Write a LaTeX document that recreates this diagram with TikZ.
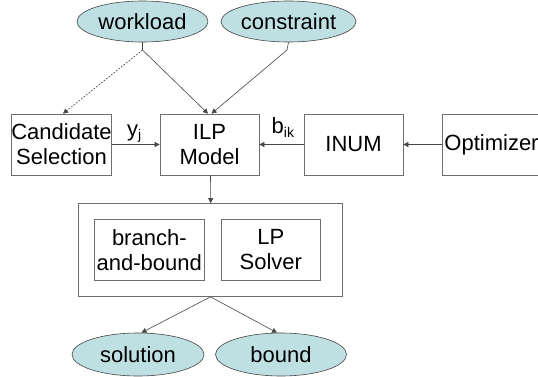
\documentclass[tikz,border=0pt]{standalone}
\usepackage{fontspec}
\setmainfont{Liberation Sans}
\usetikzlibrary{arrows.meta,shapes.geometric}
\definecolor{ellfill}{RGB}{190,224,227}
\definecolor{lngray}{RGB}{70,70,70}
\definecolor{boxgray}{RGB}{110,110,110}
\begin{document}
\begin{tikzpicture}[x=1pt,y=-1pt,
  txt/.style={font=\fontsize{22}{25}\selectfont, align=center, text=black},
  ell/.style={ellipse, draw=lngray, fill=ellfill, line width=0.6pt, minimum width=132pt, minimum height=41pt, inner sep=0pt, txt},
  boxn/.style={rectangle, draw=boxgray, line width=0.7pt, minimum width=99pt, minimum height=61pt, inner sep=0pt, txt},
  arr/.style={-{Triangle[length=5pt,width=5pt]}, draw=lngray, line width=0.6pt},
  lbl/.style={font=\fontsize{22}{25}\selectfont, inner sep=0pt, anchor=base west},
  sub/.style={font=\fontsize{14}{14}\selectfont}]
\clip (0,0) rectangle (538,377);
\fill[white] (0,0) rectangle (538,377);
% ellipses
\node[ell, minimum width=131pt] (wl) at (142.5,21.5) {workload};
\node[ell, minimum width=133pt] (cons) at (288.5,21.5) {constraint};
\node[ell, minimum height=43pt] (sol) at (138,354.5) {solution};
\node[ell, minimum height=43pt, minimum width=131pt] (bnd) at (281,354.5) {bound};
% boxes
\node[boxn] (cand) at (61.5,144.5) {Candidate\\Selection};
\node[boxn] (ilp) at (209.5,144.5) {ILP\\Model};
\node[boxn] (inum) at (353.5,144.5) {INUM};
\node[boxn] (opt) at (491.5,144.5) {Optimizer};
% solver
\node[rectangle, draw=boxgray, line width=0.7pt, minimum width=264pt, minimum height=93pt, inner sep=0pt] (solver) at (210.5,250) {};
\node[boxn, minimum width=110pt] (bb) at (149.3,249.7) {branch-\\and-bound};
\node[boxn, minimum width=98.5pt] (lp) at (270.8,249.7) {LP\\Solver};
% labels
\node[lbl] (yj) at (127,136) {y\raisebox{-3pt}{\fontsize{14}{14}\selectfont j}};
\node[lbl] (bik) at (271.5,134) {b\raisebox{-3.5pt}{\fontsize{14}{14}\selectfont ik}};
% free ends of the top connectors
\coordinate (wlout) at (142.5,50);
\coordinate (consout) at (287,50);
\draw[draw=lngray, line width=0.6pt] (wl.south) -- (wlout);
\draw[draw=lngray, line width=0.6pt] (cons.south) -- (consout);
% connectors
\draw[arr, dash pattern=on 2pt off 1.2pt] (wlout) -- ([xshift=1.5pt]cand.north);
\draw[arr] (wlout) -- ([xshift=-1.5pt]ilp.north);
\draw[arr] (consout) -- ([xshift=2pt]ilp.north);
\draw[arr] (cand.east) -- (ilp.west);
\draw[arr] (inum.west) -- (ilp.east);
\draw[arr] (opt.west) -- (inum.east);
\draw[arr] ([xshift=1pt]ilp.south) -- ([xshift=0.2pt]solver.north);
\draw[arr] (solver.south) -- ([xshift=3.5pt]sol.north);
\draw[arr] (solver.south) -- ([xshift=-4pt]bnd.north);
\end{tikzpicture}
\end{document}
